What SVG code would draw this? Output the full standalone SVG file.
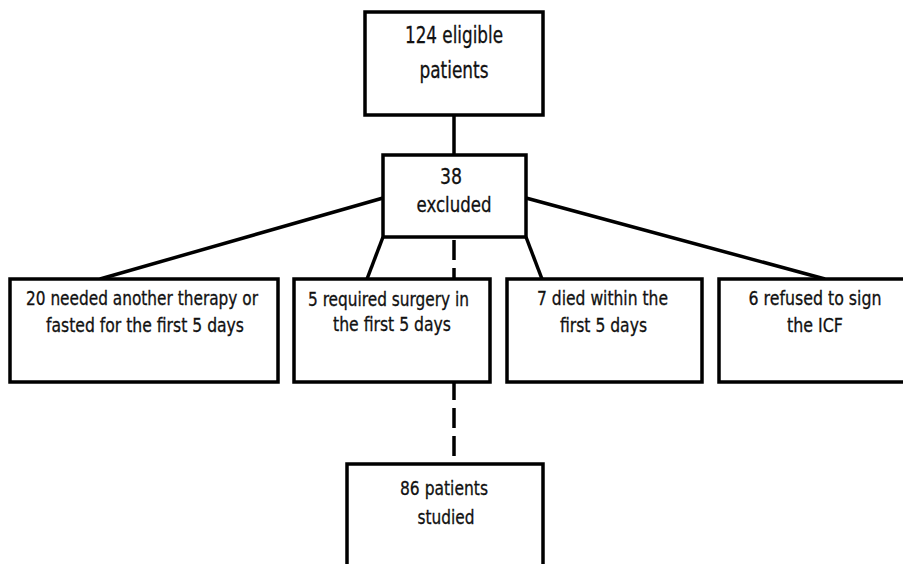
<svg xmlns="http://www.w3.org/2000/svg" width="903" height="564" viewBox="0 0 903 564">
<style>
.box{fill:#fff;stroke:#000;stroke-width:3.5}
.ln{fill:none;stroke:#000;stroke-width:3.5}
.dash{fill:none;stroke:#000;stroke-width:3.5;stroke-dasharray:20 8}
text{font-family:"Liberation Sans Narrow","DejaVu Sans Condensed","Liberation Sans",sans-serif;fill:#111;text-anchor:middle;stroke:#111;stroke-width:0.3}
.t19{font-size:20px}
.t20{font-size:21px}
.t22{font-size:23px}
</style>
<rect width="903" height="564" fill="#fff"/>
<g id="connectors">
<line class="ln" x1="454" y1="115" x2="454" y2="155"/>
<line class="ln" x1="383" y1="198" x2="100" y2="279"/>
<line class="ln" x1="383" y1="237" x2="367" y2="279"/>
<line class="ln" x1="526" y1="237" x2="542" y2="279"/>
<line class="ln" x1="526" y1="198" x2="825" y2="279"/>
<line class="dash" x1="454" y1="240" x2="454" y2="464"/>
</g>
<g id="n_eligible">
<rect class="box" x="365" y="12" width="178" height="103"/>
<text class="t22" x="454" y="43" textLength="98" lengthAdjust="spacingAndGlyphs">124 eligible</text>
<text class="t22" x="454" y="78" textLength="69" lengthAdjust="spacingAndGlyphs">patients</text>
</g>
<g id="n_excluded">
<rect class="box" x="383" y="155" width="143" height="82"/>
<text class="t20" x="451" y="184" textLength="22" lengthAdjust="spacingAndGlyphs">38</text>
<text class="t20" x="454" y="212" textLength="75" lengthAdjust="spacingAndGlyphs">excluded</text>
</g>
<g id="n_therapy">
<rect class="box" x="10" y="279" width="268" height="103"/>
<text class="t19" x="142" y="305" textLength="232" lengthAdjust="spacingAndGlyphs">20 needed another therapy or</text>
<text class="t19" x="145" y="332" textLength="198" lengthAdjust="spacingAndGlyphs">fasted for the first 5 days</text>
</g>
<g id="n_surgery">
<rect class="box" x="294" y="279" width="196" height="103"/>
<text class="t19" x="388.5" y="306" textLength="161" lengthAdjust="spacingAndGlyphs">5 required surgery in</text>
<text class="t19" x="392" y="331" textLength="118" lengthAdjust="spacingAndGlyphs">the first 5 days</text>
</g>
<g id="n_died">
<rect class="box" x="507" y="279" width="195" height="103"/>
<text class="t19" x="602.5" y="305" textLength="131" lengthAdjust="spacingAndGlyphs">7 died within the</text>
<text class="t19" x="603.5" y="332" textLength="87" lengthAdjust="spacingAndGlyphs">first 5 days</text>
</g>
<g id="n_refused">
<rect class="box" x="719" y="279" width="200" height="103"/>
<text class="t19" x="815" y="305" textLength="133" lengthAdjust="spacingAndGlyphs">6 refused to sign</text>
<text class="t19" x="815" y="332" textLength="56" lengthAdjust="spacingAndGlyphs">the ICF</text>
</g>
<g id="n_studied">
<rect class="box" x="347" y="464" width="196" height="120"/>
<text class="t19" x="444" y="495" textLength="88" lengthAdjust="spacingAndGlyphs">86 patients</text>
<text class="t19" x="446" y="524" textLength="57" lengthAdjust="spacingAndGlyphs">studied</text>
</g>
</svg>
